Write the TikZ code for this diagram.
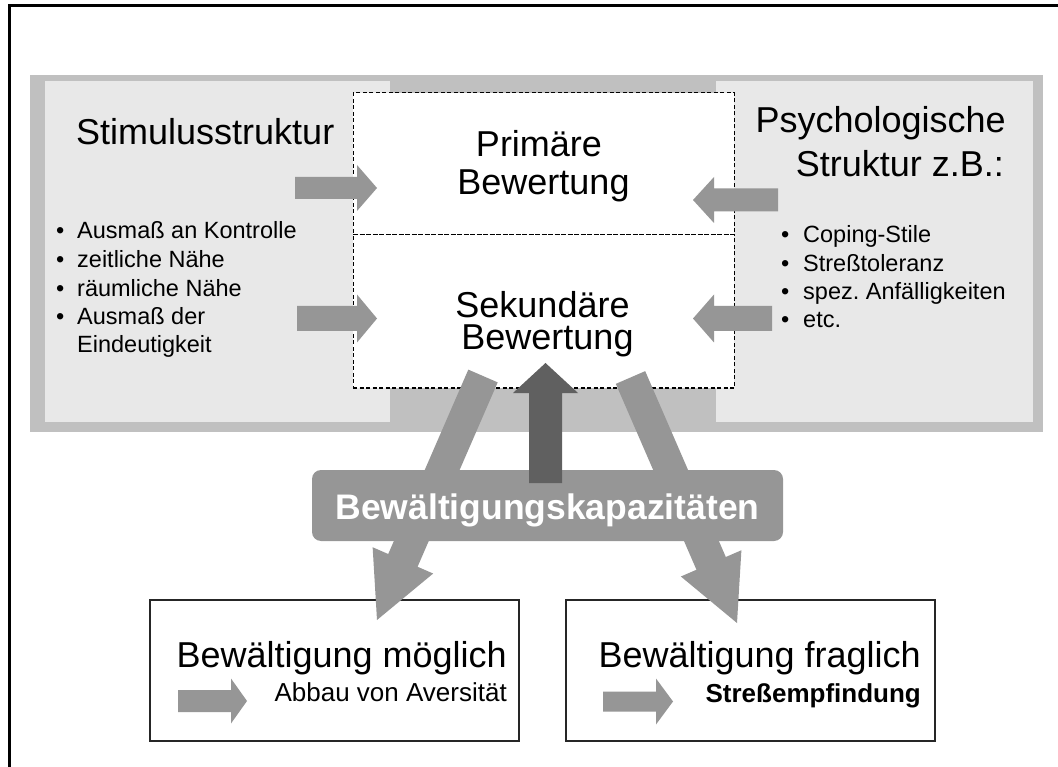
\documentclass[tikz,border=0pt]{standalone}
\usepackage{fontspec}
\setmainfont{Liberation Sans}
\usetikzlibrary{calc}
\frenchspacing

\definecolor{bandgray}{HTML}{C0C0C0}
\definecolor{panelgray}{HTML}{E8E8E8}
\definecolor{arrowgray}{HTML}{969696}
\definecolor{darkarrow}{HTML}{606060}

% block arrow: #1 style, #2 tail, #3 tip, #4 shaft half width, #5 head half width, #6 head length
\newcommand\blockarrow[6]{%
  \path ($(#3)!#6!(#2)$) coordinate (ba-h);
  \fill[#1] ($(#2)!#4!90:(#3)$) -- ($(ba-h)!#4!90:(#3)$) -- ($(ba-h)!#5!90:(#3)$)
    -- (#3) -- ($(ba-h)!#5!-90:(#3)$) -- ($(ba-h)!#4!-90:(#3)$) -- ($(#2)!#4!-90:(#3)$) -- cycle;}

\tikzset{
  big/.style={inner sep=0pt, font=\fontsize{36}{39}\selectfont},
  small/.style={inner sep=0pt, anchor=base west, font=\fontsize{23.5}{28}\selectfont},
  boxsub/.style={inner sep=0pt, anchor=base east, font=\fontsize{26}{30}\selectfont},
  evalbox/.style={draw=black, fill=white, line width=1pt, dash pattern=on 4pt off 2.5pt,
    minimum width=381pt, inner sep=0pt},
  outbox/.style={draw=black!85, fill=white, line width=1.3pt, minimum width=369pt,
    minimum height=141pt, inner sep=0pt},
  kapbox/.style={fill=arrowgray, rounded corners=9pt, minimum width=471pt, minimum height=71pt,
    inner sep=0pt, text=white, text height=27pt, text depth=0pt,
    font=\bfseries\fontsize{35.5}{38}\selectfont},
  grayarrow/.style={fill=arrowgray},
  darkarr/.style={fill=darkarrow},
}

\begin{document}
\begin{tikzpicture}[x=1pt, y=-1pt]
\useasboundingbox (0,0) rectangle (1058,767);

% outer frame (runs off the page at right and bottom)
\draw[line width=3pt] (9,800) -- (9,6) -- (1080,6);

% gray band with the two light panels
\fill[bandgray] (30,75) rectangle (1043,432);
\fill[panelgray] (45,81) rectangle (390,422);
\fill[panelgray] (716,81) rectangle (1033,422);

% appraisal boxes
\node[evalbox, minimum height=142pt] (prim) at (543.5,164) {};
\node[evalbox, minimum height=153pt] (sek) at (543.5,311.5) {};

\node[big, anchor=base] (primA) at (539,157) {Primäre};
\node[big, anchor=base] (primB) at (543.5,195) {Bewertung};
\node[big, anchor=base, text depth=0pt] (sekA) at (542.5,318) {Sekundäre};
\node[big, anchor=base, text height=26pt] (sekB) at (547.5,349.5) {Bewertung};

% left panel: stimulus structure
\node[big, anchor=base west] (stim) at (76,145) {Stimulusstruktur};
\node[small] (s1) at (56,239) {\makebox[21pt][l]{•}Ausmaß an Kontrolle};
\node[small] (s2) at (56,268) {\makebox[21pt][l]{•}zeitliche Nähe};
\node[small] (s3) at (56,297) {\makebox[21pt][l]{•}räumliche Nähe};
\node[small] (s4) at (56,325) {\makebox[21pt][l]{•}Ausmaß der};
\node[small] (s5) at (77,353) {Eindeutigkeit};

% right panel: psychological structure
\node[big, anchor=base east] (psyA) at (1006,133) {Psychologische};
\node[big, anchor=base east] (psyB) at (1004,177) {Struktur z.B.:};
\node[small] (p1) at (781,243) {\makebox[22pt][l]{•}Coping-Stile};
\node[small] (p2) at (781,272) {\makebox[22pt][l]{•}Streßtoleranz};
\node[small] (p3) at (781,300) {\makebox[22pt][l]{•}spez. Anfälligkeiten};
\node[small] (p4) at (781,328) {\makebox[22pt][l]{•}etc.};

% arrows into the appraisal boxes
\coordinate (luA) at (295,188);   \coordinate (luB) at (377,188);
\coordinate (llA) at (297,318.5); \coordinate (llB) at (377,318.5);
\coordinate (ruA) at (778,200);   \coordinate (ruB) at (693,200);
\coordinate (rlA) at (772,318.5); \coordinate (rlB) at (693,318.5);
\blockarrow{grayarrow}{luA}{luB}{11pt}{23pt}{20pt}
\blockarrow{grayarrow}{llA}{llB}{12.5pt}{24pt}{20pt}
\blockarrow{grayarrow}{ruA}{ruB}{11.5pt}{23pt}{21pt}
\blockarrow{grayarrow}{rlA}{rlB}{12.5pt}{24pt}{21pt}

% outcome boxes
\node[outbox] (moeglich) at (334.5,670.5) {};
\node[outbox] (fraglich) at (750.5,670.5) {};
\node[big, anchor=base east] (mA) at (507,667) {Bewältigung möglich};
\node[boxsub] (mB) at (507,701) {Abbau von Aversität};
\node[big, anchor=base east] (fA) at (921,667) {Bewältigung fraglich};
\node[boxsub, font=\bfseries\fontsize{26}{30}\selectfont] (fB) at (921,702) {Streßempfindung};
\coordinate (maA) at (178,701);   \coordinate (maB) at (247,701);
\coordinate (faA) at (603,701.5); \coordinate (faB) at (673,701.5);
\blockarrow{grayarrow}{maA}{maB}{11pt}{22.5pt}{16pt}
\blockarrow{grayarrow}{faA}{faB}{10pt}{23pt}{17pt}

% diagonal arrows from the secondary appraisal to the outcomes
\coordinate (dlA) at (483,376);   \coordinate (dlB) at (377,620);
\coordinate (drA) at (630.5,377.5); \coordinate (drB) at (737,623);
\blockarrow{grayarrow}{dlA}{dlB}{16pt}{33pt}{65pt}
\blockarrow{grayarrow}{drA}{drB}{16pt}{33pt}{65pt}

% coping capacities
\node[kapbox] (kap) at (547.5,505.5) {Bewältigungskapazitäten};
\coordinate (upA) at (545.5,483); \coordinate (upB) at (545.5,363);
\blockarrow{darkarr}{upA}{upB}{16.5pt}{32.5pt}{30pt}
\end{tikzpicture}
\end{document}
